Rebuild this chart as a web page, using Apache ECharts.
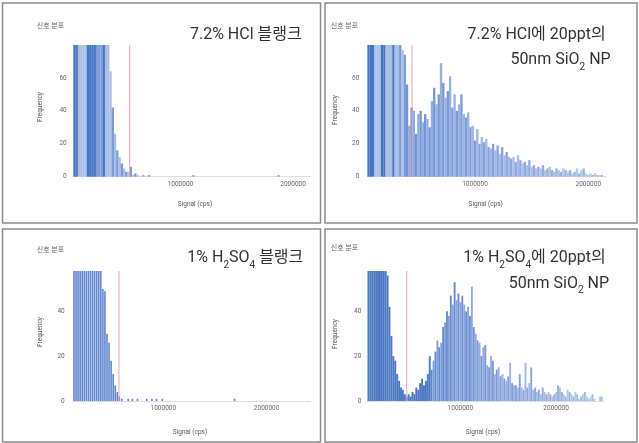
<!DOCTYPE html>
<html>
<head>
<meta charset="utf-8">
<script src="https://cdn.jsdelivr.net/npm/echarts@6/dist/echarts.min.js"></script>
<style>
html,body{margin:0;padding:0;background:#fff;}
#chart{width:639px;height:443px;}
</style>
</head>
<body>
<div id="chart"></div>
<script>
// ---------------- data ----------------
const binWidth = 20000; // cps per histogram bin

// Panel 1: 7.2% HCl blank
const hclBlankFirstBin = 60000;
const hclBlankCounts = [95,95,95,95,95,95,95,95,95,95,95,95,95,95,95,95,
  64,42,26,16,12,8,5,3,3,6,1,2,1];
const hclBlankRareX = [670000, 720000, 1115000, 1870000];
const hclBlankRareY = [1, 1, 1, 1];
const hclBlankThreshold = 550000;

// Panel 2: 7.2% HCl + 20 ppt 50 nm SiO2 NP
const hclNpFirstBin = 60000;
const hclNpCounts = [95,95,95,95,95,95,95,95,95,95,95,95,95,95,
  82,77,74,56,31,42,40,26,38,40,33,38,35,30,46,54,44,50,69,57,48,52,61,42,50,40,
  44,50,38,36,39,30,31,22,29,20,24,21,23,18,17,20,16,19,14,18,13,15,12,11,12,9,
  13,10,8,9,7,10,6,7,5,6,5,7,4,5,6,4,3,5,4,3,5,4,3,4,2,3,5,2,4,5,2,1,2,1,2,1,1,1];
const hclNpRareX = [];
const hclNpRareY = [];
const hclNpThreshold = 444000;

// Panel 3: 1% H2SO4 blank
const h2so4BlankFirstBin = 135000;
const h2so4BlankCounts = [70,70,70,70,70,70,70,70,70,70,70,70,70,70,
  50,49,30,26,18,12,7,4,2];
const h2so4BlankRareX = [600000, 660000, 700000, 750000, 840000, 890000, 935000, 990000, 1690000];
const h2so4BlankRareY = [1, 1, 1, 1, 1, 1, 1, 1, 1];
const h2so4BlankThreshold = 571000;

// Panel 4: 1% H2SO4 + 20 ppt 50 nm SiO2 NP
const h2so4NpFirstBin = 40000;
const h2so4NpCounts = [70,70,70,70,70,70,70,70,70,70,
  56,42,29,20,18,12,9,6,5,3,2,3,2,4,3,6,5,8,10,7,9,12,20,14,18,22,27,24,26,33,
  35,40,38,47,43,53,45,48,44,47,43,40,42,38,51,33,30,27,26,20,24,25,16,15,20,18,
  12,14,15,11,12,10,9,11,17,8,7,7,6,12,6,5,17,6,8,15,5,6,4,5,3,6,4,3,4,3,2,3,
  4,7,6,4,3,2,5,4,3,2,4,3,1,2,3,4,2,1,2,3,1,0,0,2,2];
const h2so4NpRareX = [];
const h2so4NpRareY = [];
const h2so4NpThreshold = 440000;

// axis labels
const xTickValues = [1000000, 2000000];
const yTicksTop = [0, 20, 40, 60];
const yTicksBottom = [0, 20, 40];

// ---------------- helpers ----------------
function buildData(first, counts, rareX, rareY) {
  const d = counts.map((c, i) => [first + i * binWidth, c]);
  rareX.forEach((x, i) => d.push([x, rareY[i]]));
  return d;
}
function hex(c){return [parseInt(c.slice(1,3),16),parseInt(c.slice(3,5),16),parseInt(c.slice(5,7),16)];}
function mix(a,b,t){t=Math.max(0,Math.min(1,t||0));const A=hex(a),B=hex(b);
  return 'rgb('+A.map((v,i)=>Math.round(v+(B[i]-v)*t)).join(',')+')';}

const SH = {D:'#4575c3', M:'#7c9cd8', L:'#a9bfe6'};
const p1Pattern = 'DDLLLLDDDDMMMDLLLMLMLMLMLMLML';
const p2Pattern = 'DDDLLLDDLLLDLLMLM';

function xOf(p){ return Array.isArray(p.value) ? p.value[0] : 0; }
function colorP1(p){
  const ch = p1Pattern[p.dataIndex];
  return ch ? SH[ch] : '#8fa9dd';
}
function colorP2(p){
  const ch = p2Pattern[p.dataIndex];
  if (ch) return SH[ch];
  const t = (xOf(p) - 400000) / 1700000;
  return p.dataIndex % 2 ? mix('#6f92d4','#a2b8e4',t) : mix('#8dabe0','#bccbec',t);
}
function colorP3(){ return '#5f87cf'; }
function colorP4(p){
  const x = xOf(p);
  if (x < 700000) return '#4a78c3';
  const t = (x - 700000) / 1700000;
  return p.dataIndex % 2 ? mix('#5f86cc','#a6bbe5',t) : mix('#7d9dd8','#bccbec',t);
}

// ---------------- layout ----------------
const grids = [
  {left:72.7, top:45, width:237.3, height:131.7},
  {left:367.3, top:45, width:238.4, height:131.7},
  {left:72.7, top:271, width:237.3, height:130},
  {left:367.3, top:271, width:236.7, height:130}
];
const xRanges = [[44000,2150000],[49000,2154000],[123000,2420000],[28000,2500000]];
const yMax = [80, 80, 58, 58];
const yLabelMargin = [6, 8, 8, 6];
const barWidths = [2.35, 2.35, 1.6, 1.9];
const thresholds = [hclBlankThreshold, hclNpThreshold, h2so4BlankThreshold, h2so4NpThreshold];
const seriesData = [
  buildData(hclBlankFirstBin, hclBlankCounts, hclBlankRareX, hclBlankRareY),
  buildData(hclNpFirstBin, hclNpCounts, hclNpRareX, hclNpRareY),
  buildData(h2so4BlankFirstBin, h2so4BlankCounts, h2so4BlankRareX, h2so4BlankRareY),
  buildData(h2so4NpFirstBin, h2so4NpCounts, h2so4NpRareX, h2so4NpRareY)
];
const colorFns = [colorP1, colorP2, colorP3, colorP4];

const FONT = "Roboto, 'Noto Sans CJK KR', sans-serif";

const xAxis = grids.map((g,i)=>({
  type:'value', gridIndex:i, min:xRanges[i][0], max:xRanges[i][1],
  axisLine:{show:true, lineStyle:{color:'#dedede', width:1}},
  axisTick:{show:false}, splitLine:{show:false},
  axisLabel:{customValues:xTickValues, fontSize:6.5, color:'#666', margin:4, fontFamily:FONT,
    formatter:function(v){return String(v);}}
}));
const yAxis = grids.map((g,i)=>({
  type:'value', gridIndex:i, min:0, max:yMax[i],
  axisLine:{show:false}, axisTick:{show:false}, splitLine:{show:false},
  axisLabel:{customValues: i<2 ? yTicksTop : yTicksBottom, fontSize:6.5, color:'#666',
    margin:yLabelMargin[i], fontFamily:FONT, formatter:function(v){return String(v);}}
}));
const barSeries = grids.map((g,i)=>({
  type:'bar', xAxisIndex:i, yAxisIndex:i, data:seriesData[i],
  barWidth:barWidths[i], clip:true, silent:true,
  itemStyle:{color:colorFns[i]}
}));
const thresholdSeries = grids.map((g,i)=>({
  type:'line', xAxisIndex:i, yAxisIndex:i, silent:true, z:5,
  data:[[thresholds[i], 0], [thresholds[i], yMax[i]]],
  symbol:'none', showSymbol:false,
  lineStyle:{color:'#e8a0b4', width:1},
  itemStyle:{color:'#e8a0b4'}
}));

function txt(x,y,text,size,fill,align,extra){
  return Object.assign({type:'text', x:x, y:y, silent:true,
    style:{text:text, fontSize:size, fontFamily:FONT, fill:fill,
      textAlign:align||'left', textVerticalAlign:'middle'}}, extra||{});
}
const subRich = {sub:{fontSize:10, lineHeight:10, verticalAlign:'bottom', fill:'#333', fontFamily:FONT}};
function title(x,y,text){
  return {type:'text', x:x, y:y, silent:true,
    style:{text:text, fontSize:16, lineHeight:24, fontFamily:FONT, fill:'#333',
      textAlign:'right', textVerticalAlign:'middle', rich:subRich}};
}
function rect(x,y,w,h){
  return {type:'rect', silent:true, shape:{x:x,y:y,width:w,height:h},
    style:{fill:'none', stroke:'#8c8c8c', lineWidth:1.5}};
}

const graphic = [
  rect(2.5,3,318,220), rect(325,3,312,220), rect(2.5,229,318,213), rect(325,229,312,213),
  txt(36.7,26.7,'신호 분포',7,'#666'), txt(330.7,26.7,'신호 분포',7,'#666'),
  txt(36.7,250,'신호 분포',7,'#666'), txt(330.7,248,'신호 분포',7,'#666'),
  txt(40,107,'Frequency',6.5,'#555','center',{rotation:Math.PI/2}),
  txt(335,110,'Frequency',6.5,'#555','center',{rotation:Math.PI/2}),
  txt(40,332,'Frequency',6.5,'#555','center',{rotation:Math.PI/2}),
  txt(335,334,'Frequency',6.5,'#555','center',{rotation:Math.PI/2}),
  txt(195,204,'Signal (cps)',6.5,'#555','center'),
  txt(485.7,204,'Signal (cps)',6.5,'#555','center'),
  txt(190,432.7,'Signal (cps)',6.5,'#555','center'),
  txt(483,432.7,'Signal (cps)',6.5,'#555','center'),
  title(301.7,35,'7.2% HCl 블랭크'),
  title(605.7,35,'7.2% HCl에 20ppt의'),
  title(610.7,60,'50nm SiO{sub|2} NP'),
  title(303.3,258,'1% H{sub|2}SO{sub|4} 블랭크'),
  title(605.7,258,'1% H{sub|2}SO{sub|4}에 20ppt의'),
  title(609,283.7,'50nm SiO{sub|2} NP')
];

const chart = echarts.init(document.getElementById('chart'), null, {renderer:'canvas'});
chart.setOption({
  animation:false,
  backgroundColor:'#fff',
  grid:grids.map(g=>Object.assign({containLabel:false}, g)),
  xAxis:xAxis, yAxis:yAxis, series:barSeries.concat(thresholdSeries), graphic:graphic
});
</script>
</body>
</html>
